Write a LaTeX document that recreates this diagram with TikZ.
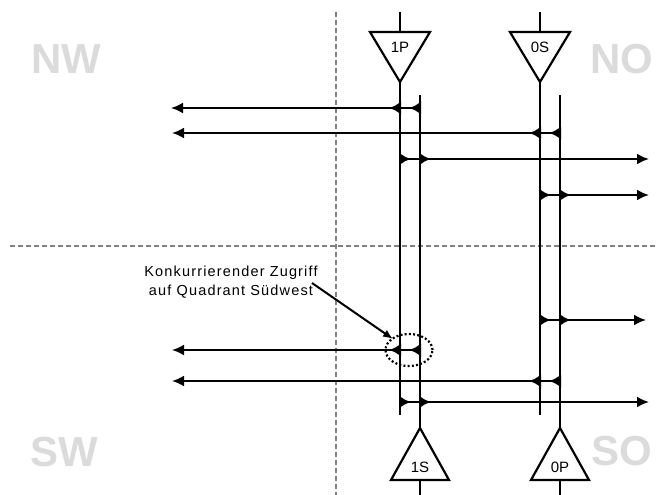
\documentclass[tikz,border=0pt]{standalone}
\usepackage{fontspec}
\setmainfont{Liberation Sans}
\usetikzlibrary{arrows.meta,shapes.geometric}
\begin{document}
\begin{tikzpicture}[x=1pt,y=-1pt,
  wire/.style={line width=2.2pt},
  tri/.style={line width=2.2pt, line join=miter},
  arr/.style={wire,-{Latex[length=12pt,width=11pt]}},
  note arrow/.style={line width=2pt,-{Latex[length=10pt,width=8pt]}},
  quad/.style={text=gray!28, font=\fontsize{42}{42}\selectfont\bfseries, inner sep=0pt},
  lbl/.style={font=\fontsize{15}{15}\selectfont, inner sep=0pt},
  guide/.style={gray, line width=1.2pt, dash pattern=on 5pt off 3pt},
  dots/.style={line width=2.2pt, dash pattern=on 2pt off 2.2pt},
  jl/.pic={\fill (1,-6.5) .. controls (-2.5,-3.5) and (-6,-1.3) .. (-11,0) .. controls (-6,1.3) and (-2.5,3.5) .. (1,6.5) -- cycle;},
  jr/.pic={\fill (-1,-6.5) .. controls (2.5,-3.5) and (6,-1.3) .. (11,0) .. controls (6,1.3) and (2.5,3.5) .. (-1,6.5) -- cycle;}
]
\useasboundingbox (0,0) rectangle (657,495);

% quadrant labels
\node[quad] (nw) at (66,59) {NW};
\node[quad] (no) at (622,59) {NO};
\node[quad] (sw) at (64,452) {SW};
\node[quad] (so) at (622,451) {SO};

% guide lines
\coordinate (gvt) at (336,12);
\coordinate (gvb) at (336,495);
\coordinate (ghl) at (10,246);
\coordinate (ghr) at (657,246);
\draw[guide] (gvt) -- (gvb);
\draw[guide] (ghl) -- (ghr);

% top triangles
\coordinate (s1p) at (400,12);
\coordinate (b1pa) at (370,32); \coordinate (b1pb) at (430,32); \coordinate (a1p) at (400,82);
\coordinate (top1p) at (400,32);
\draw[tri] (b1pa) -- (b1pb) -- (a1p) -- cycle;
\draw[wire] (s1p) -- (top1p);
\node[lbl] (t1p) at (400,47) {1P};

\coordinate (s0s) at (540,12);
\coordinate (b0sa) at (510,32); \coordinate (b0sb) at (570,32); \coordinate (a0s) at (540,82);
\coordinate (top0s) at (540,32);
\draw[tri] (b0sa) -- (b0sb) -- (a0s) -- cycle;
\draw[wire] (s0s) -- (top0s);
\node[lbl] (t0s) at (540,47) {0S};

% bottom triangles
\coordinate (a1s) at (420,428); \coordinate (b1sa) at (391,480); \coordinate (b1sb) at (449,480);
\coordinate (bot1s) at (420,480); \coordinate (s1s) at (420,495);
\draw[tri] (a1s) -- (b1sb) -- (b1sa) -- cycle;
\draw[wire] (bot1s) -- (s1s);
\node[lbl] (t1s) at (420,467) {1S};

\coordinate (a0p) at (560,428); \coordinate (b0pa) at (531,480); \coordinate (b0pb) at (589,480);
\coordinate (bot0p) at (560,480); \coordinate (s0p) at (560,495);
\draw[tri] (a0p) -- (b0pb) -- (b0pa) -- cycle;
\draw[wire] (bot0p) -- (s0p);
\node[lbl] (t0p) at (560,467) {0P};

% vertical buses
\coordinate (v1e) at (400,415);
\coordinate (v2s) at (420,95);
\coordinate (v3e) at (540,415);
\coordinate (v4s) at (560,95);
\draw[wire] (a1p) -- (v1e);
\draw[wire] (v2s) -- (a1s);
\draw[wire] (a0s) -- (v3e);
\draw[wire] (v4s) -- (a0p);

% row 1
\coordinate (r1s) at (420,108); \coordinate (r1e) at (171,108);
\draw[arr] (r1s) -- (r1e);
\pic at (420,108) {jl}; \pic at (400,108) {jl};
% row 2
\coordinate (r2s) at (560,133); \coordinate (r2e) at (172,133);
\draw[arr] (r2s) -- (r2e);
\pic at (560,133) {jl}; \pic at (540,133) {jl};
% row 3
\coordinate (r3s) at (400,159); \coordinate (r3e) at (649,159);
\draw[arr] (r3s) -- (r3e);
\pic at (400,159) {jr}; \pic at (420,159) {jr};
% row 4
\coordinate (r4s) at (540,195); \coordinate (r4e) at (649,195);
\draw[arr] (r4s) -- (r4e);
\pic at (540,195) {jr}; \pic at (560,195) {jr};
% row 5
\coordinate (r5s) at (540,320); \coordinate (r5e) at (646,320);
\draw[arr] (r5s) -- (r5e);
\pic at (540,320) {jr}; \pic at (560,320) {jr};
% row 6
\coordinate (r6s) at (420,350); \coordinate (r6e) at (172,350);
\draw[arr] (r6s) -- (r6e);
\pic at (420,350) {jl}; \pic at (400,350) {jl};
% row 7
\coordinate (r7s) at (560,381); \coordinate (r7e) at (172,381);
\draw[arr] (r7s) -- (r7e);
\pic at (560,381) {jl}; \pic at (540,381) {jl};
% row 8
\coordinate (r8s) at (400,402); \coordinate (r8e) at (649,402);
\draw[arr] (r8s) -- (r8e);
\pic at (400,402) {jr}; \pic at (420,402) {jr};

% annotation
\node[draw, dots, ellipse, minimum width=47pt, minimum height=32pt, inner sep=0pt] (conc) at (409,350) {};
\node[font=\fontsize{14.5}{19}\selectfont\addfontfeature{LetterSpace=8}, align=center, inner sep=0pt] (note) at (231,282) {Konkurrierender Zugriff\\auf Quadrant Südwest};
\coordinate (ns) at (312,283);
\coordinate (ne) at (393,339);
\draw[note arrow] (ns) -- (ne);
\end{tikzpicture}
\end{document}
